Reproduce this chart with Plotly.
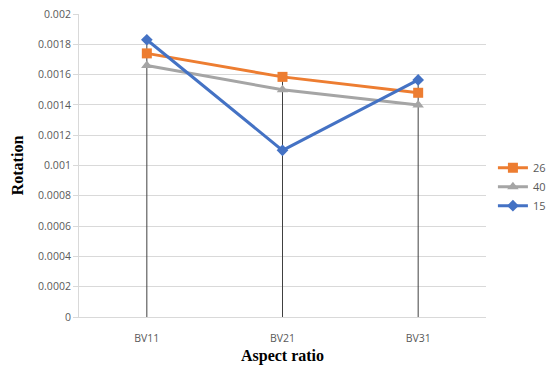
import plotly.graph_objects as go

categories = ["BV11", "BV21", "BV31"]
series_names = ["26", "40", "15"]
s26 = [0.00174, 0.001585, 0.00148]
s40 = [0.00166, 0.0015, 0.0014]
s15 = [0.00183, 0.0011, 0.001565]
y_ticks = [0, 0.0002, 0.0004, 0.0006, 0.0008, 0.001, 0.0012, 0.0014, 0.0016, 0.0018, 0.002]

colors = ["#ED7D31", "#A5A5A5", "#4472C4"]
symbols = ["square", "triangle-up", "diamond"]
sizes = [10, 10, 9]

fig = go.Figure()

# drop lines
all_series = [s26, s40, s15]
for i, c in enumerate(categories):
    top = max(s[i] for s in all_series)
    fig.add_trace(go.Scatter(x=[c, c], y=[0, top], mode="lines",
                             line=dict(color="#404040", width=1),
                             showlegend=False, hoverinfo="skip"))

for name, vals, col, sym, sz in zip(series_names, all_series, colors, symbols, sizes):
    fig.add_trace(go.Scatter(x=categories, y=vals, mode="lines+markers", name=name,
                             line=dict(color=col, width=3),
                             marker=dict(symbol=sym, size=sz, color=col)))

tick_text = [("%.4f" % v).rstrip("0").rstrip(".") if v != 0 else "0" for v in y_ticks]

fig.update_layout(
    width=548, height=367,
    margin=dict(l=79, r=62, t=14, b=50, autoexpand=False),
    plot_bgcolor="white", paper_bgcolor="white",
    font=dict(family="Open Sans", size=10.5, color="#595959"),
    legend=dict(x=1.017, y=0.43, xanchor="left", yanchor="middle",
                font=dict(size=11, color="#595959"), itemwidth=30,
                tracegroupgap=0),
    xaxis=dict(
        type="category", range=[-0.5, 2.5],
        showgrid=False, showline=True, linecolor="#D9D9D9", linewidth=1,
        ticks="", ticklabelstandoff=11,
        title=dict(text="<b>Aspect ratio</b>", standoff=6,
                   font=dict(family="Liberation Serif", size=16, color="black")),
    ),
    yaxis=dict(
        range=[0, 0.002], tickvals=y_ticks, ticktext=tick_text,
        showgrid=True, gridcolor="#D9D9D9", gridwidth=1,
        showline=True, linecolor="#D9D9D9", linewidth=1,
        ticks="outside", ticklen=5, tickcolor="#D9D9D9",
        zeroline=False,
        title=dict(text="<b>Rotation</b>", standoff=10,
                   font=dict(family="Liberation Serif", size=16, color="black")),
    ),
)

fig.write_html("out.html")
